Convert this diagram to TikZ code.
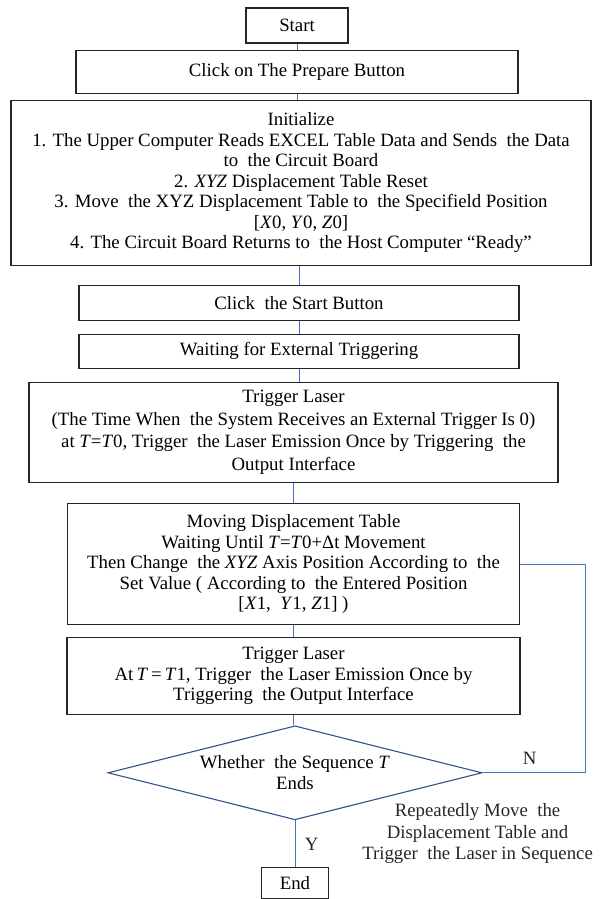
\documentclass[tikz,border=0pt]{standalone}
\usepackage{fontspec}
\setmainfont{Liberation Serif}
\usetikzlibrary{positioning,shapes.geometric}
\definecolor{linkblue}{HTML}{4472C4}
\definecolor{diamblue}{HTML}{2F528F}
\definecolor{boxgray}{HTML}{262626}

\begin{document}
\begin{tikzpicture}[x=1pt,y=1pt,
    font=\fontsize{18.8}{20.5}\selectfont,
    stepbox/.style={draw=boxgray, line width=1.1pt, rectangle, align=center, inner sep=2pt},
    link/.style={draw=linkblue, line width=0.9pt}]
    \useasboundingbox (0,0) rectangle (601,-899);

    \node (start) [stepbox, minimum width=102pt, minimum height=35pt] at (297,-25.5) {Start};
    \node (prep) [stepbox, below=6pt of start, minimum width=442pt, minimum height=43pt] {Click on The Prepare Button};
    \node (init) [stepbox, below=6pt of prep, xshift=4pt, minimum width=580pt, minimum height=165pt] {Initialize\\
        1. The Upper Computer Reads EXCEL Table Data and Sends~ the Data\\
        to~ the Circuit Board\\
        2. \textit{XYZ} Displacement Table Reset\\
        3. Move~ the XYZ Displacement Table to~ the Specifield Position\\
        {[}\textit{X}0, \textit{Y}0, \textit{Z}0]\\
        4. The Circuit Board Returns to~ the Host Computer “Ready”};

    \node (btn) [stepbox, below=19pt of init, xshift=-2pt, minimum width=440pt, minimum height=35pt] {Click~ the Start Button};
    \node (wait) [stepbox, below=13pt of btn, minimum width=440pt, minimum height=34pt] {Waiting for External Triggering};
    \node (trig1) [stepbox, below=13pt of wait, xshift=-5.5pt, minimum width=529pt, minimum height=100pt,
        font=\fontsize{18.8}{22.5}\selectfont] {Trigger Laser\\
        (The Time When~ the System Receives an External Trigger Is 0)\\
        at \textit{T}=\textit{T}0, Trigger~ the Laser Emission Once by Triggering~ the\\
        Output Interface};
    \node (move) [stepbox, below=20pt of trig1, minimum width=452pt, minimum height=121pt] {Moving Displacement Table\\
        Waiting Until \textit{T}=\textit{T}0+Δt Movement\\
        Then Change~ the \textit{XYZ} Axis Position According to~ the\\
        Set Value ( According to~ the Entered Position\\
        {[}\textit{X}1,~ \textit{Y}1, \textit{Z}1] )};
    \node (trig2) [stepbox, below=12pt of move, minimum width=453pt, minimum height=77pt] {Trigger Laser\\
        At\,\textit{T}\,=\,\textit{T}1, Trigger~ the Laser Emission Once by\\
        Triggering~ the Output Interface};
    \node (dec) [diamond, draw=diamblue, line width=1.1pt, aspect=4, inner sep=0pt, align=center,
        below=10pt of trig2, xshift=1.5pt, minimum width=374pt, minimum height=94pt] {Whether~ the Sequence \textit{T}\\Ends};
    \node (end) [stepbox, below=47pt of dec, minimum width=67pt, minimum height=31pt] {End};

    % main flow
    \draw[link] (start) -- (start |- prep.north);
    \draw[link] (prep) -- (prep |- init.north);
    \draw[link] (btn.north) -- (btn |- init.south);
    \draw[link] (btn) -- (btn |- wait.north);
    \draw[link] (wait) -- (wait |- trig1.north);
    \draw[link] (move.north) -- (move |- trig1.south);
    \draw[link] (move) -- (move |- trig2.north);
    \draw[link] (trig2) -- (trig2 |- dec.north);
    \draw[link] (dec.south) -- (end) node[midway, right=6pt, text=boxgray] {Y};

    % loop back
    \draw[link] (dec.east) -| ([xshift=65pt]move.east) -- (move.east);
    \node (nlab) [text=boxgray] at ([xshift=47pt,yshift=14pt]dec.east) {N};
    \node (rep) [align=center, font=\fontsize{18.8}{21.5}\selectfont, text=boxgray] at ([xshift=-5pt,yshift=-61pt]dec.east) {Repeatedly Move~ the\\
        Displacement Table and\\
        Trigger~ the Laser in Sequence};
\end{tikzpicture}
\end{document}
